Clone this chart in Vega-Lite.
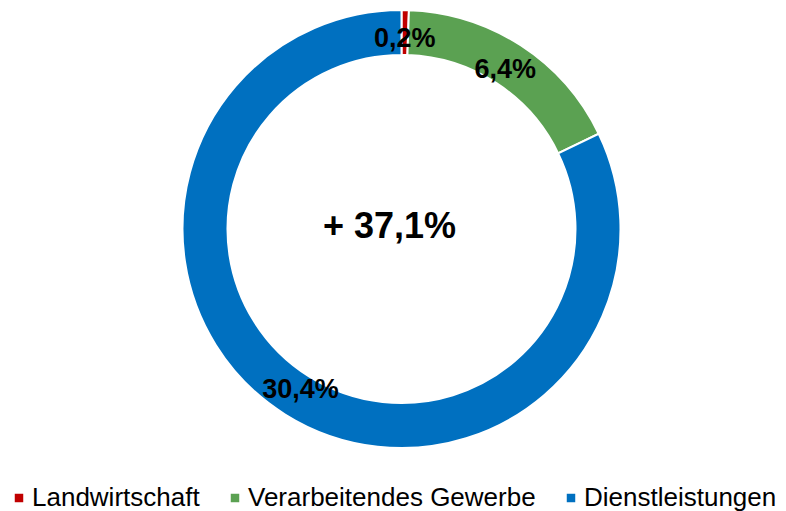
{
  "$schema": "https://vega.github.io/schema/vega-lite/v6.json",
  "width": 769,
  "height": 458,
  "padding": {"left": 17, "top": 0, "right": 0, "bottom": 53},
  "autosize": {"type": "none"},
  "background": "white",
  "config": {"view": {"stroke": null}, "font": "Liberation Sans"},
  "layer": [
    {
      "data": {"values": [
        {"sektor": "Landwirtschaft", "wert": 0.2, "label": "0,2%", "ord": 1},
        {"sektor": "Verarbeitendes Gewerbe", "wert": 6.4, "label": "6,4%", "ord": 2},
        {"sektor": "Dienstleistungen", "wert": 30.4, "label": "30,4%", "ord": 3}
      ]},
      "encoding": {
        "theta": {"field": "wert", "type": "quantitative", "stack": true},
        "order": {"field": "ord", "type": "quantitative"}
      },
      "layer": [
        {
          "mark": {"type": "arc", "innerRadius": 174, "outerRadius": 219, "stroke": "white", "strokeWidth": 2},
          "encoding": {
            "color": {
              "field": "sektor", "type": "nominal",
              "sort": ["Landwirtschaft", "Verarbeitendes Gewerbe", "Dienstleistungen"],
              "scale": {"domain": ["Landwirtschaft", "Verarbeitendes Gewerbe", "Dienstleistungen"], "range": ["#C00000", "#5BA152", "#0070C0"]},
              "legend": {
                "title": null, "orient": "none", "direction": "horizontal",
                "legendX": -11, "legendY": 485,
                "symbolType": "square", "symbolSize": 72, "symbolStrokeWidth": 0,
                "labelFontSize": 26, "labelFont": "Liberation Sans", "labelColor": "black",
                "labelOffset": 0, "columnPadding": 22, "labelLimit": 400
              }
            }
          }
        },
        {
          "mark": {"type": "text", "radius": 190, "fontSize": 27, "fontWeight": "bold", "font": "Liberation Sans", "color": "black", "baseline": "middle", "align": "center"},
          "encoding": {"text": {"field": "label", "type": "nominal"}}
        }
      ]
    },
    {
      "data": {"values": [{"gesamt": "+ 37,1%"}]},
      "mark": {"type": "text", "fontSize": 36, "fontWeight": "bold", "font": "Liberation Sans", "color": "black", "baseline": "middle", "align": "center", "dx": -12, "dy": -2},
      "encoding": {"text": {"field": "gesamt", "type": "nominal"}}
    }
  ]
}
